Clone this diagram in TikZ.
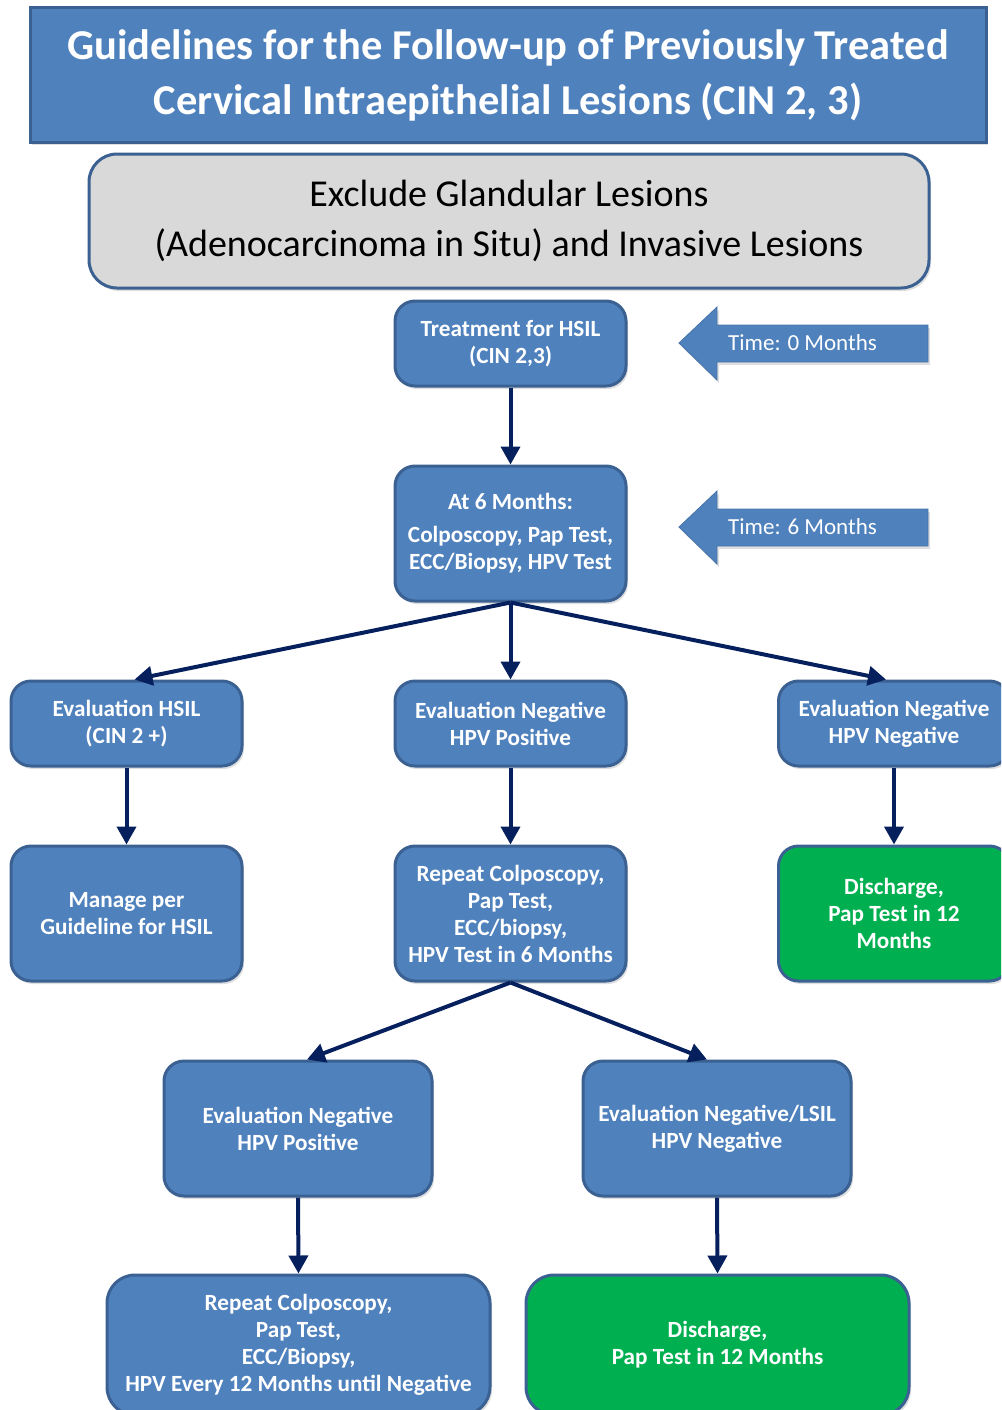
\documentclass[tikz,border=0pt]{standalone}
\usepackage{fontspec}
\setmainfont{Carlito}
\usetikzlibrary{arrows.meta,shadows,calc}
\definecolor{boxblue}{HTML}{4F81BD}
\definecolor{boxedge}{HTML}{3B6192}
\definecolor{grayfill}{HTML}{D9D9D9}
\definecolor{greenfill}{HTML}{00B050}
\definecolor{navy}{HTML}{06205E}
\begin{document}
\begin{tikzpicture}[x=1pt,y=-1pt,
  shade/.style={drop shadow={shadow xshift=2pt,shadow yshift=-3pt,opacity=0.25,fill=black!50}},
  box/.style={draw=boxedge,line width=3pt,fill=boxblue,rounded corners=20pt,text=white,
    align=center,font=\bfseries\fontsize{23.2}{27}\selectfont,inner sep=0pt,
    minimum width=231pt,minimum height=85pt,shade},
  tallbox/.style={box,minimum height=135pt},
  widebox/.style={box,minimum width=268pt,minimum height=135pt},
  bigbox/.style={box,minimum width=383pt,minimum height=140pt,rounded corners=28pt},
  greenbox/.style={fill=greenfill},
  conn/.style={draw=navy,line width=4pt,-{Triangle[length=18pt,width=19pt]}},
  timearrow/.style={fill=boxblue,draw=boxblue!90!black,line width=0.8pt,shade},
  timetext/.style={text=white,font=\fontsize{23}{26}\selectfont,inner sep=0pt}
]
\useasboundingbox (0,0) rectangle (1001,1410);
\clip (0,0) rectangle (1001,1410);

% title
\node[draw=boxedge,line width=3pt,fill=boxblue,minimum width=956pt,minimum height=134pt,
  inner sep=0pt,text=white,align=center,font=\bfseries\fontsize{42.5}{55}\selectfont,shade]
  (title) at (508,75) {\raisebox{-2pt}{Guidelines for the Follow-up of Previously Treated}\\\raisebox{-2pt}{Cervical Intraepithelial Lesions (CIN 2, 3)}};

% exclude
\node[draw=boxedge,line width=3pt,fill=grayfill,rounded corners=28pt,minimum width=840pt,
  minimum height=134pt,inner sep=0pt,align=center,font=\fontsize{38}{50}\selectfont,shade]
  (excl) at (509,221) {\raisebox{-2pt}{Exclude Glandular Lesions}\\\raisebox{-2pt}{(Adenocarcinoma in Situ) and Invasive Lesions}};

% main chain
\node[box] (treat) at (510.5,343.5) {Treatment for HSIL\\(CIN 2,3)};
\node[tallbox] (six) at (510.5,533.5) {At 6 Months:\\[6pt]Colposcopy, Pap Test,\\ECC/Biopsy, HPV Test};

% time arrows
\path[timearrow] (679,343) -- (717,307) -- (717,325) -- (928,325) -- (928,362) -- (717,362) -- (717,380) -- cycle;
\node[timetext,anchor=west] (t0) at (728,343) {Time: 0 Months};
\path[timearrow] (679,527) -- (717,491) -- (717,509) -- (928,509) -- (928,546) -- (717,546) -- (717,564) -- cycle;
\node[timetext,anchor=west] (t6) at (728,527) {Time: 6 Months};

% level 2
\node[box] (ehsil) at (126.5,723.5) {Evaluation HSIL\\(CIN 2 +)};
\node[box] (enegpos) at (510.5,723.5) {Evaluation Negative\\HPV Positive};
\node[box] (enegneg) at (894,723.5) {Evaluation Negative\\HPV Negative};

% level 3
\node[tallbox] (manage) at (126.5,913.5) {Manage per\\Guideline for HSIL};
\node[tallbox] (repeat) at (510.5,913.5) {Repeat Colposcopy,\\Pap Test,\\ECC/biopsy,\\HPV Test in 6 Months};
\node[tallbox,greenbox] (disch) at (894,913.5) {Discharge,\\Pap Test in 12\\Months};

% level 4
\node[widebox] (enegpos2) at (298,1128.5) {Evaluation Negative\\HPV Positive};
\node[widebox] (enegneg2) at (717,1128.5) {Evaluation Negative/LSIL\\HPV Negative};

% level 5
\node[bigbox] (repeat2) at (298.5,1345) {Repeat Colposcopy,\\Pap Test,\\ECC/Biopsy,\\HPV Every 12 Months until Negative};
\node[bigbox,greenbox] (disch2) at (717.5,1345) {Discharge,\\Pap Test in 12 Months};

% connectors
\draw[conn] (treat.south) -- (six.north);
\draw[conn] (six.south) -- ($(ehsil.north)+(8,0)$);
\draw[conn] (six.south) -- (enegpos.north);
\draw[conn] (six.south) -- ($(enegneg.north)+(-8,0)$);
\draw[conn] (ehsil.south) -- (manage.north);
\draw[conn] (enegpos.south) -- (repeat.north);
\draw[conn] (enegneg.south) -- (disch.north);
\draw[conn] (repeat.south) -- ($(enegpos2.north)+(9,0)$);
\draw[conn] (repeat.south) -- ($(enegneg2.north)+(-10,0)$);
\draw[conn] (enegpos2.south) -- (repeat2.north);
\draw[conn] (enegneg2.south) -- (disch2.north);
\end{tikzpicture}
\end{document}
